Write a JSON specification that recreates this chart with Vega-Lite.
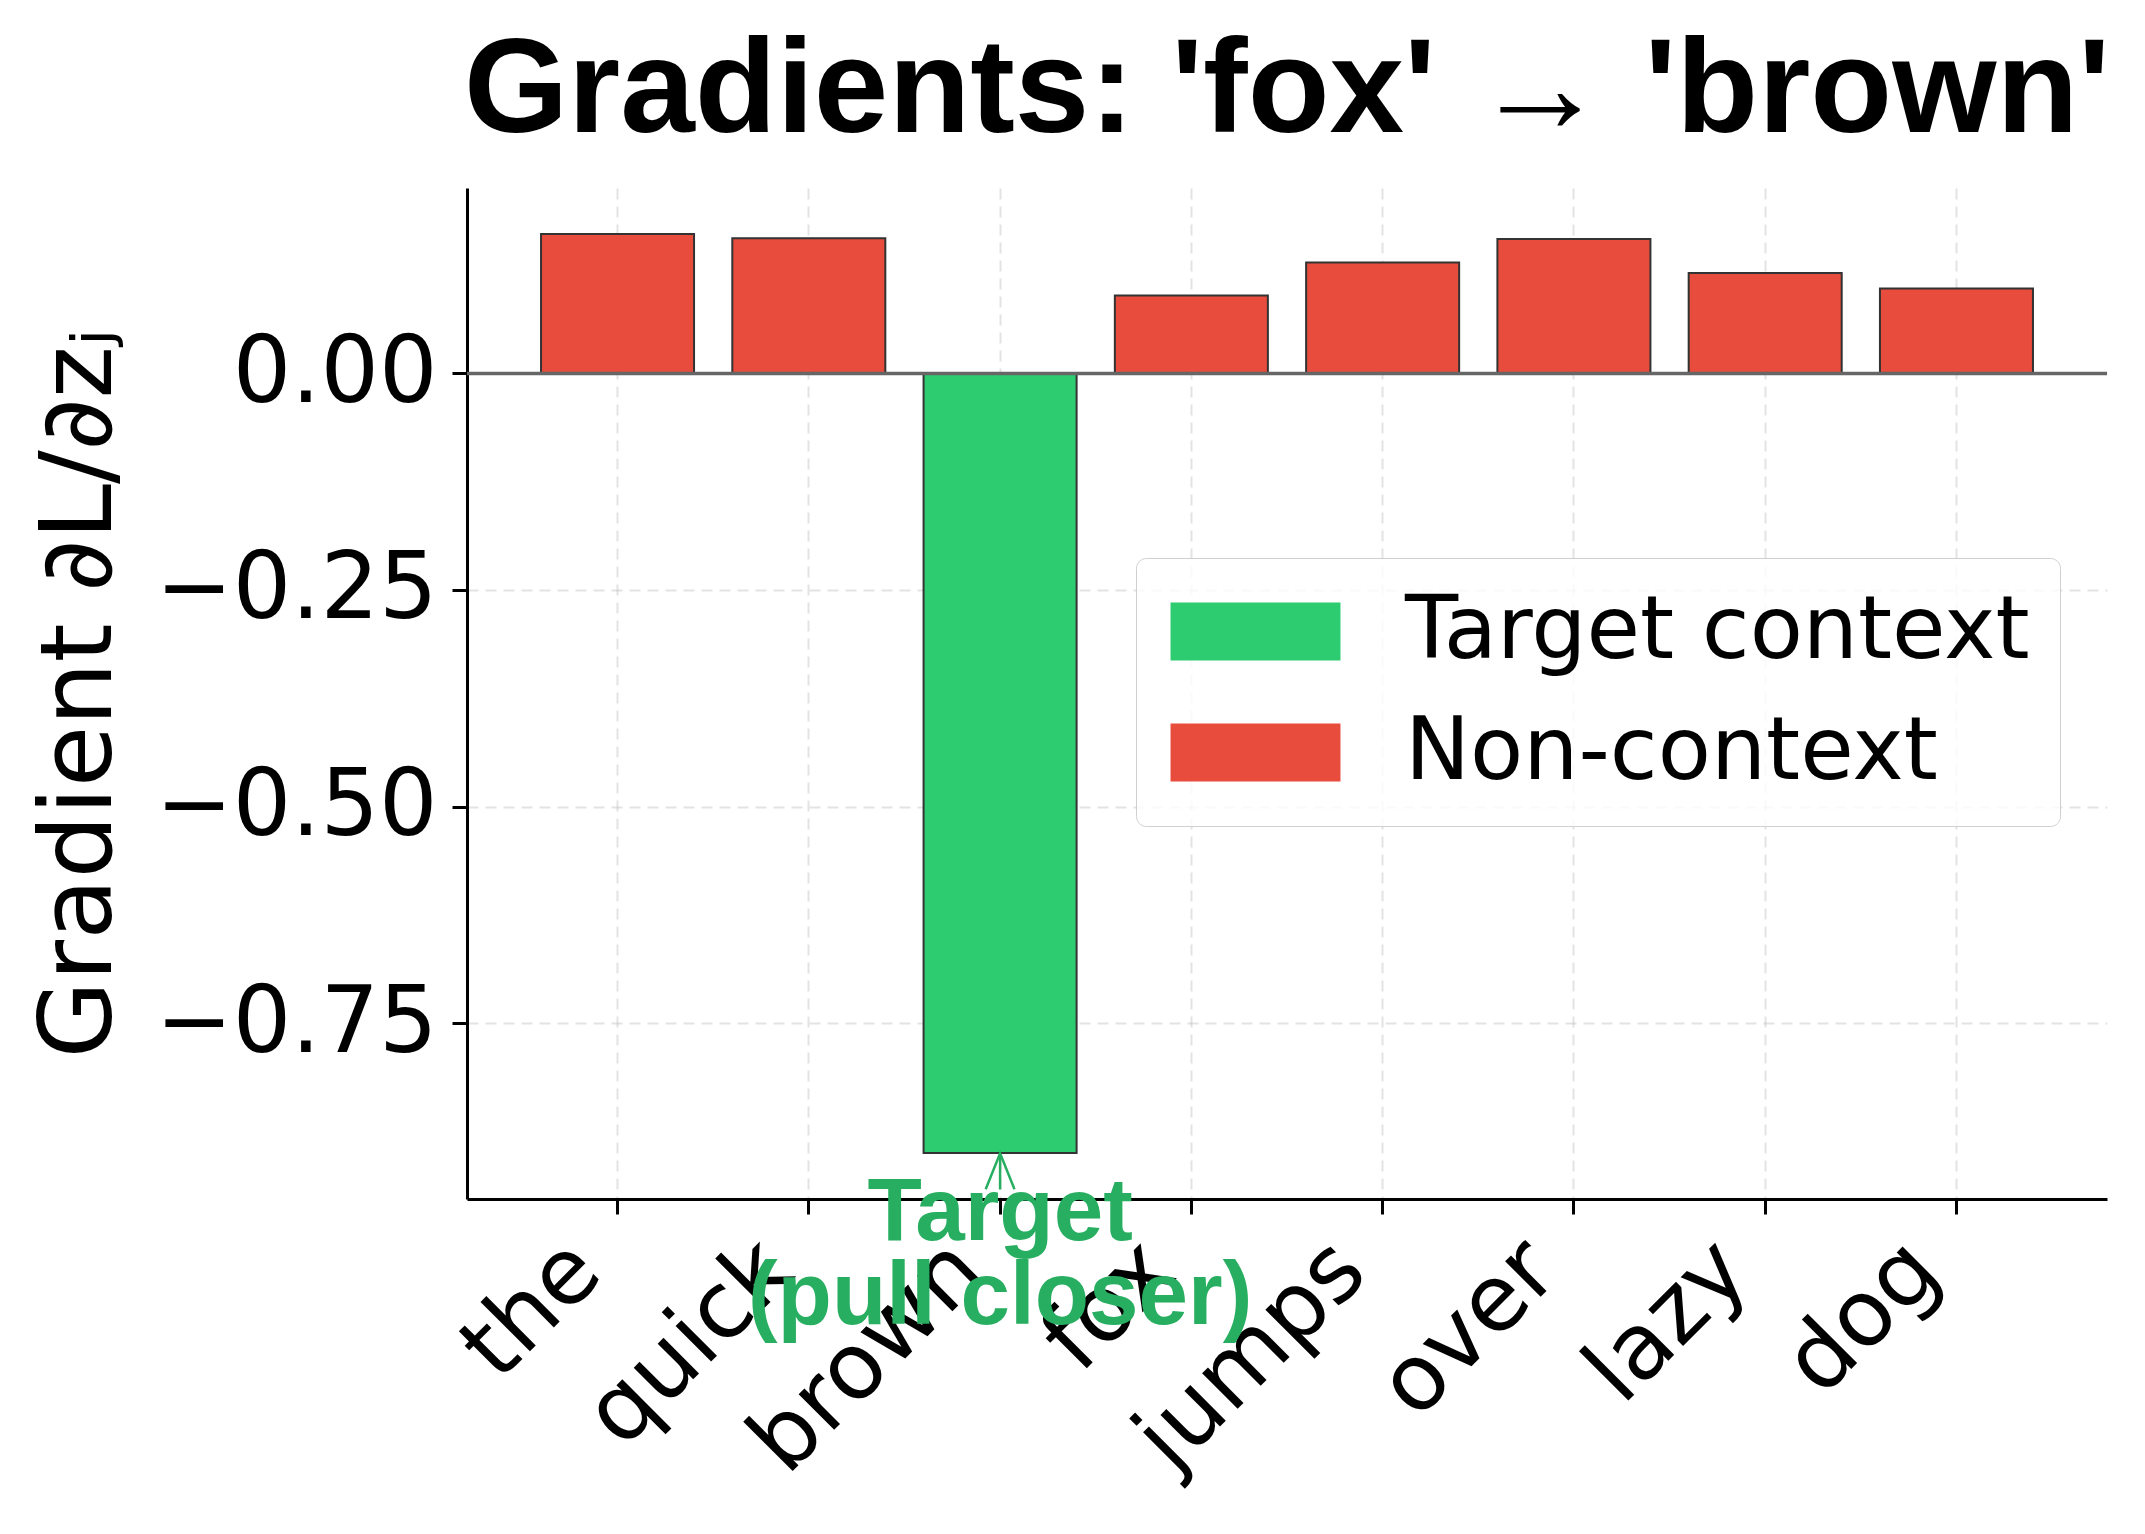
{
  "$schema": "https://vega.github.io/schema/vega-lite/v6.json",
  "width": 1640,
  "height": 1011,
  "autosize": "none",
  "padding": {"left": 467, "top": 188, "right": 38, "bottom": 335},
  "background": "white",
  "title": {
    "text": "Gradients: 'fox' → 'brown'",
    "font": "Liberation Sans",
    "fontWeight": "bold",
    "fontSize": 134,
    "color": "black",
    "anchor": "middle",
    "baseline": "alphabetic",
    "offset": -78
  },
  "config": {
    "view": {"stroke": null},
    "axis": {
      "domainColor": "black",
      "domainWidth": 3,
      "tickColor": "black",
      "tickWidth": 3,
      "tickSize": 15,
      "gridColor": "#b0b0b0",
      "gridOpacity": 0.35,
      "gridWidth": 2,
      "gridDash": [11, 7],
      "labelFont": "DejaVu Sans",
      "labelFontSize": 92,
      "labelColor": "black",
      "labelLimit": 1000,
      "titleFont": "DejaVu Sans",
      "titleFontWeight": "normal",
      "titleColor": "black",
      "titleLimit": 2000,
      "zindex": 1
    },
    "legend": {
      "zindex": 2,
      "labelLimit": 1000
    }
  },
  "layer": [
    {
      "data": {
        "values": [
          {"word": "the", "gradient": 0.161, "type": "Non-context"},
          {"word": "quick", "gradient": 0.156, "type": "Non-context"},
          {"word": "brown", "gradient": -0.900, "type": "Target context"},
          {"word": "fox", "gradient": 0.090, "type": "Non-context"},
          {"word": "jumps", "gradient": 0.128, "type": "Non-context"},
          {"word": "over", "gradient": 0.155, "type": "Non-context"},
          {"word": "lazy", "gradient": 0.116, "type": "Non-context"},
          {"word": "dog", "gradient": 0.098, "type": "Non-context"}
        ]
      },
      "mark": {"type": "bar", "stroke": "#333333", "strokeWidth": 2},
      "encoding": {
        "x": {
          "field": "word",
          "type": "nominal",
          "scale": {
            "domain": ["the", "quick", "brown", "fox", "jumps", "over", "lazy", "dog"],
            "paddingInner": 0.2,
            "paddingOuter": 0.387
          },
          "axis": {
            "title": null,
            "grid": true,
            "labelAngle": -45,
            "labelAlign": "right",
            "labelBaseline": "top",
            "labelOffset": -64,
            "labelPadding": 10
          }
        },
        "y": {
          "field": "gradient",
          "type": "quantitative",
          "scale": {"domain": [-0.953, 0.214], "nice": false, "zero": false},
          "axis": {
            "title": "Gradient ∂L/∂zⱼ",
            "titleFontSize": 100,
            "titleBaseline": "alphabetic",
            "titleX": -357,
            "titleY": 505,
            "values": [0, -0.25, -0.5, -0.75],
            "format": ".2f",
            "labelPadding": 15,
            "grid": true
          }
        },
        "color": {
          "field": "type",
          "type": "nominal",
          "scale": {
            "domain": ["Target context", "Non-context"],
            "range": ["#2ecc71", "#e74c3c"]
          },
          "legend": {
            "title": null,
            "orient": "none",
            "legendX": 669,
            "legendY": 370,
            "padding": 30,
            "fillColor": "rgba(255,255,255,0.8)",
            "strokeColor": "#d0d0d0",
            "cornerRadius": 10,
            "symbolType": "M-2.93,-1L2.93,-1L2.93,1L-2.93,1Z",
            "symbolSize": 3364,
            "symbolOffset": 46,
            "symbolStrokeWidth": 0,
            "symbolOpacity": 1,
            "labelFont": "DejaVu Sans",
            "labelFontSize": 87,
            "labelColor": "black",
            "labelOffset": 106,
            "rowPadding": 33,
            "encode": {
              "legend": {"update": {"strokeWidth": {"value": 2.5}}}
            }
          }
        }
      }
    },
    {
      "data": {"values": [{"zero": 0}]},
      "mark": {"type": "rule", "color": "#666666", "strokeWidth": 3.5},
      "encoding": {"y": {"field": "zero", "type": "quantitative"}}
    },
    {
      "data": {"values": [{"word": "brown", "y": -0.942, "y2": -0.9}]},
      "mark": {"type": "rule", "color": "#27ae60", "strokeWidth": 2.5},
      "encoding": {
        "x": {"field": "word", "type": "nominal"},
        "y": {"field": "y", "type": "quantitative"},
        "y2": {"field": "y2"}
      }
    },
    {
      "data": {"values": [{"word": "brown", "y": -0.921}]},
      "mark": {
        "type": "point",
        "shape": "M-0.8,1L0,-1L0.8,1",
        "size": 1296,
        "filled": false,
        "stroke": "#27ae60",
        "strokeWidth": 2.5,
        "opacity": 1
      },
      "encoding": {
        "x": {"field": "word", "type": "nominal"},
        "y": {"field": "y", "type": "quantitative"}
      }
    },
    {
      "data": {"values": [{"word": "brown", "y": -1.0, "label": "Target\n(pull closer)"}]},
      "mark": {
        "type": "text",
        "font": "Liberation Sans",
        "fontWeight": "bold",
        "fontSize": 89,
        "color": "#27ae60",
        "align": "center",
        "baseline": "alphabetic",
        "lineBreak": "\n",
        "lineHeight": 84
      },
      "encoding": {
        "x": {"field": "word", "type": "nominal"},
        "y": {"field": "y", "type": "quantitative"},
        "text": {"field": "label"}
      }
    }
  ]
}
